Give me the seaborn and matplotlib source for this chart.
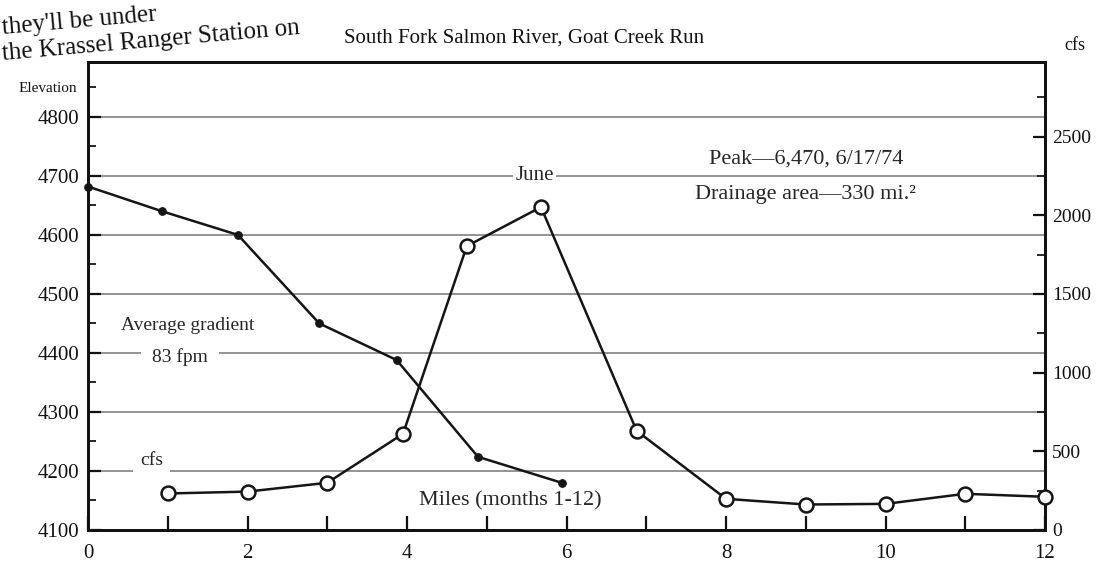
import matplotlib
matplotlib.use("Agg")
import matplotlib.pyplot as plt
import seaborn as sns
import pandas as pd
from matplotlib.ticker import MultipleLocator

# ---- data ----
miles = [0, 0.93, 1.88, 2.9, 3.87, 4.89, 5.94]
elevation = [4682, 4640, 4600, 4450, 4388, 4224, 4180]

months = [1, 2, 3, 3.95, 4.75, 5.68, 6.88, 8, 9, 10, 11, 12]
cfs = [232, 244, 300, 611, 1804, 2052, 630, 198, 162, 166, 230, 211]

elev_ticks = [4100, 4200, 4300, 4400, 4500, 4600, 4700, 4800]
cfs_ticks = [0, 500, 1000, 1500, 2000, 2500]
mile_ticks = [0, 2, 4, 6, 8, 10, 12]

sns.set_theme(style="white")
plt.rcParams['font.family'] = ['Liberation Serif', 'DejaVu Serif']

W, H = 1104, 587
fig = plt.figure(figsize=(W / 100, H / 100), dpi=100)
L, R, B, T = 88, 1045, 530, 62
ax = fig.add_axes([L / W, 1 - B / H, (R - L) / W, (B - T) / H])

elev_df = pd.DataFrame({"mile": miles, "elev": elevation})
cfs_df = pd.DataFrame({"month": months, "cfs": cfs})

ymin, ymax = 4100, 4893
ax.set_ylim(ymin, ymax)
ax.set_xlim(0, 12)
ax.set_yticks(elev_ticks)
ax.yaxis.set_minor_locator(MultipleLocator(50))
ax.set_xticks(mile_ticks)
ax.xaxis.set_minor_locator(MultipleLocator(1))
ax.grid(axis='y', which='major', color='#8a8a8a', lw=1.3)
ax.set_axisbelow(True)

sns.lineplot(data=elev_df, x="mile", y="elev", ax=ax, color='#151515', lw=1.8,
             marker='o', markersize=5.5, markeredgecolor='#151515',
             markerfacecolor='#151515', clip_on=False, zorder=4)

ax2 = ax.twinx()
ax2.set_ylim(0, (ymax - ymin) * 3.75)
sns.lineplot(data=cfs_df, x="month", y="cfs", ax=ax2, color='#151515', lw=1.8,
             marker='o', markersize=10, markeredgewidth=1.8,
             markeredgecolor='#151515', markerfacecolor='white',
             clip_on=False, zorder=5)
ax2.set_yticks(cfs_ticks)
ax2.yaxis.set_minor_locator(MultipleLocator(250))
ax2.set_xlim(0, 12)

for a in (ax, ax2):
    a.set_xlabel("")
    a.set_ylabel("")
    for s in a.spines.values():
        s.set_color('#111111')
        s.set_linewidth(2.0)

ax.tick_params(axis='y', which='major', direction='in', length=9, width=1.6,
               labelsize=15, pad=6, left=True, right=False, colors='#111111')
ax.tick_params(axis='y', which='minor', direction='in', length=6, width=1.4, left=True)
ax.tick_params(axis='x', which='both', direction='in', length=10, width=1.6,
               labelsize=15, pad=10, bottom=True, colors='#111111')
ax2.tick_params(axis='y', which='major', direction='in', length=9, width=1.6,
                labelsize=14, pad=5, right=True, colors='#111111')
ax2.tick_params(axis='y', which='minor', direction='in', length=6, width=1.4, right=True)

bb = dict(facecolor='white', edgecolor='none', pad=1.5)
ax.text(5.6, 4700, "June", fontsize=15, ha='center', va='center', bbox=bb, zorder=3)
ax.text(9.0, 4728, "Peak\u20146,470, 6/17/74", fontsize=16, ha='center', va='center', zorder=3)
ax.text(9.0, 4668, "Drainage area\u2014330 mi.\u00b2", fontsize=16, ha='center', va='center',
        bbox=dict(facecolor='white', edgecolor='none', pad=0.5), zorder=3)
ax.text(1.25, 4447, "Average gradient", fontsize=14, ha='center', va='center', zorder=3)
ax.text(1.15, 4393, "83 fpm", fontsize=14, ha='center', va='center',
        bbox=dict(facecolor='white', edgecolor='none', pad=8), zorder=3)
ax.text(0.8, 4218, "cfs", fontsize=14, ha='center', va='center',
        bbox=dict(facecolor='white', edgecolor='none', pad=5), zorder=3)
ax.text(5.3, 4150, "Miles (months 1-12)", fontsize=16, ha='center', va='center', zorder=3)

fig.text(0.475, 1 - 38 / H, "South Fork Salmon River, Goat Creek Run", fontsize=15,
         ha='center', va='center', color='#111111')
fig.text(48 / W, 1 - 88 / H, "Elevation", fontsize=11, ha='center', va='center', color='#111111')
fig.text(1075 / W, 1 - 45 / H, "cfs", fontsize=13, ha='center', va='center', color='#111111')

fig.text(2 / W, 1 - 28 / H, "they'll be under", fontsize=18, ha='left', va='center',
         rotation=5, rotation_mode='anchor', color='#111111')
fig.text(2 / W, 1 - 54 / H, "the Krassel Ranger Station on", fontsize=18, ha='left',
         va='center', rotation=5, rotation_mode='anchor', color='#111111')

fig.savefig("out.png", dpi=100, facecolor='white')
